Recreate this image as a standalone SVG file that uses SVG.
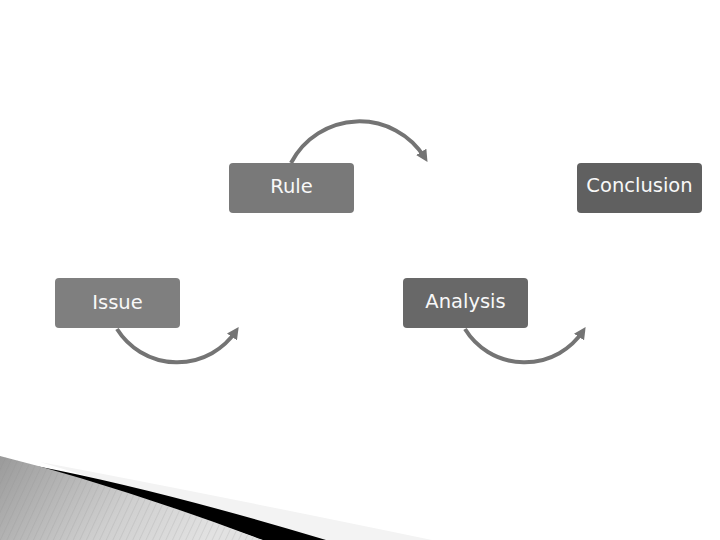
<svg xmlns="http://www.w3.org/2000/svg" width="720" height="540" viewBox="0 0 720 540">
  <style>
    .node rect { rx: 4; ry: 4; }
    .lbl { font-family: "DejaVu Sans", "Liberation Sans", sans-serif; font-size: 19.5px; fill: #f8f8f8; text-anchor: middle; }
    .arc { fill: none; stroke: #747474; stroke-width: 4; marker-end: url(#ah); }
  </style>
  <defs>
    <marker id="ah" viewBox="0 0 10 10" refX="6" refY="5" markerWidth="3" markerHeight="3" orient="auto" markerUnits="strokeWidth">
      <path d="M0,0 L10,5 L0,10 z" fill="#747474"/>
    </marker>
    <linearGradient id="gshade" x1="0" y1="0" x2="1" y2="0.3">
      <stop offset="0" stop-color="#9a9a9a"/>
      <stop offset="0.6" stop-color="#cfcfcf"/>
      <stop offset="1" stop-color="#e2e2e2"/>
    </linearGradient>
    <pattern id="stripes" width="6" height="6" patternUnits="userSpaceOnUse" patternTransform="rotate(25)">
      <line x1="0" y1="0" x2="0" y2="6" stroke="#8a8a8a" stroke-width="1" stroke-opacity="0.35"/>
    </pattern>
  </defs>

  <rect width="720" height="540" fill="#ffffff"/>

  <g id="decoration">
    <path d="M40,462 Q200,492 432,540 L300,540 Z" fill="#f3f3f3"/>
    <path d="M36,466 Q160,490 326,540 L262,540 Q150,500 36,466 Z" fill="#000000"/>
    <path d="M0,456 Q40,466 80,478 Q170,505 263,540 L0,540 Z" fill="url(#gshade)"/>
    <path d="M0,456 Q40,466 80,478 Q170,505 263,540 L0,540 Z" fill="url(#stripes)"/>
  </g>

  <g id="connectors">
    <path class="arc" d="M117,329 A71,71 0 0 0 236,331"/>
    <path class="arc" d="M291,163 A77,77 0 0 1 425,158"/>
    <path class="arc" d="M465,329 A70,70 0 0 0 583,331"/>
  </g>

  <g id="node-issue" class="node">
    <rect x="55" y="278" width="125" height="50" fill="#7f7f7f"/>
    <text class="lbl" x="117.5" y="309">Issue</text>
  </g>
  <g id="node-rule" class="node">
    <rect x="229" y="163" width="125" height="50" fill="#797979"/>
    <text class="lbl" x="291.5" y="193">Rule</text>
  </g>
  <g id="node-analysis" class="node">
    <rect x="403" y="278" width="125" height="50" fill="#686868"/>
    <text class="lbl" x="465.5" y="308">Analysis</text>
  </g>
  <g id="node-conclusion" class="node">
    <rect x="577" y="163" width="125" height="50" fill="#606060"/>
    <text class="lbl" x="639.5" y="192">Conclusion</text>
  </g>
</svg>
